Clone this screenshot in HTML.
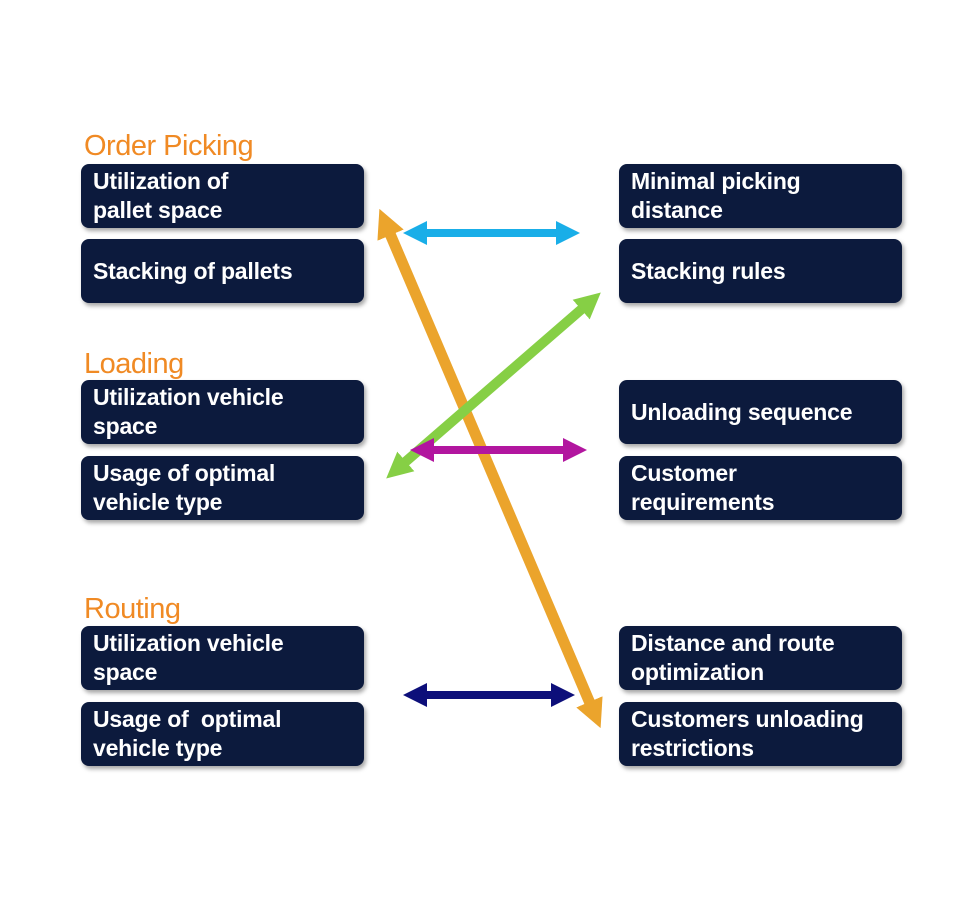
<!DOCTYPE html>
<html><head><style>
body{margin:0;background:#fff;width:980px;height:910px;position:relative;overflow:hidden;font-family:"Liberation Sans",sans-serif}
.b{position:absolute;width:283px;height:64px;background:#0c1a3d;border-radius:8px;box-shadow:2px 3px 4px rgba(0,0,0,.35);color:#fff;font-weight:bold;font-size:23px;line-height:29px;box-sizing:border-box;padding:3px 0 0 12px;letter-spacing:-0.2px}
.c{display:flex;align-items:center;padding-top:0}
.L{left:81px}.R{left:619px}
.t{position:absolute;left:84px;color:#f08a24;font-size:29px;line-height:30px;letter-spacing:-0.5px}
svg{position:absolute;left:0;top:0}
</style></head><body>
<div class="t" style="top:131px">Order Picking</div>
<div class="t" style="top:349px">Loading</div>
<div class="t" style="top:594px">Routing</div>
<div class="b L" style="top:164px">Utilization of<br>pallet space</div>
<div class="b L c" style="top:239px">Stacking of pallets</div>
<div class="b L" style="top:380px">Utilization vehicle<br>space</div>
<div class="b L" style="top:456px">Usage of optimal<br>vehicle type</div>
<div class="b L" style="top:626px">Utilization vehicle<br>space</div>
<div class="b L" style="top:702px">Usage of &nbsp;optimal<br>vehicle type</div>
<div class="b R" style="top:164px">Minimal picking<br>distance</div>
<div class="b R c" style="top:239px">Stacking rules</div>
<div class="b R c" style="top:380px">Unloading sequence</div>
<div class="b R" style="top:456px">Customer<br>requirements</div>
<div class="b R" style="top:626px">Distance and route<br>optimization</div>
<div class="b R" style="top:702px">Customers unloading<br>restrictions</div>
<svg width="980" height="910">
<defs>
<marker id="mo" markerWidth="2.6" markerHeight="2.6" refX="1.3" refY="1.3" orient="auto-start-reverse" markerUnits="strokeWidth"><path d="M0,0L2.6,1.3L0,2.6z" fill="#eba42c"/></marker>
<marker id="mg" markerWidth="2.6" markerHeight="2.6" refX="1.3" refY="1.3" orient="auto-start-reverse" markerUnits="strokeWidth"><path d="M0,0L2.6,1.3L0,2.6z" fill="#86cf45"/></marker>
<marker id="mb" markerWidth="3" markerHeight="3" refX="1.5" refY="1.5" orient="auto-start-reverse" markerUnits="strokeWidth"><path d="M0,0L3,1.5L0,3z" fill="#19aee8"/></marker>
<marker id="mm" markerWidth="3" markerHeight="3" refX="1.5" refY="1.5" orient="auto-start-reverse" markerUnits="strokeWidth"><path d="M0,0L3,1.5L0,3z" fill="#b2169f"/></marker>
<marker id="mn" markerWidth="3" markerHeight="3" refX="1.5" refY="1.5" orient="auto-start-reverse" markerUnits="strokeWidth"><path d="M0,0L3,1.5L0,3z" fill="#0d0f7a"/></marker>
</defs>
<line x1="385" y1="222" x2="595" y2="715" stroke="#eba42c" stroke-width="11" marker-start="url(#mo)" marker-end="url(#mo)"/>
<line x1="396" y1="470" x2="591" y2="301" stroke="#86cf45" stroke-width="10" marker-start="url(#mg)" marker-end="url(#mg)"/>
<line x1="415" y1="233" x2="568" y2="233" stroke="#19aee8" stroke-width="8" marker-start="url(#mb)" marker-end="url(#mb)"/>
<line x1="422" y1="450" x2="575" y2="450" stroke="#b2169f" stroke-width="8" marker-start="url(#mm)" marker-end="url(#mm)"/>
<line x1="415" y1="695" x2="563" y2="695" stroke="#0d0f7a" stroke-width="8" marker-start="url(#mn)" marker-end="url(#mn)"/>
</svg>
</body></html>
